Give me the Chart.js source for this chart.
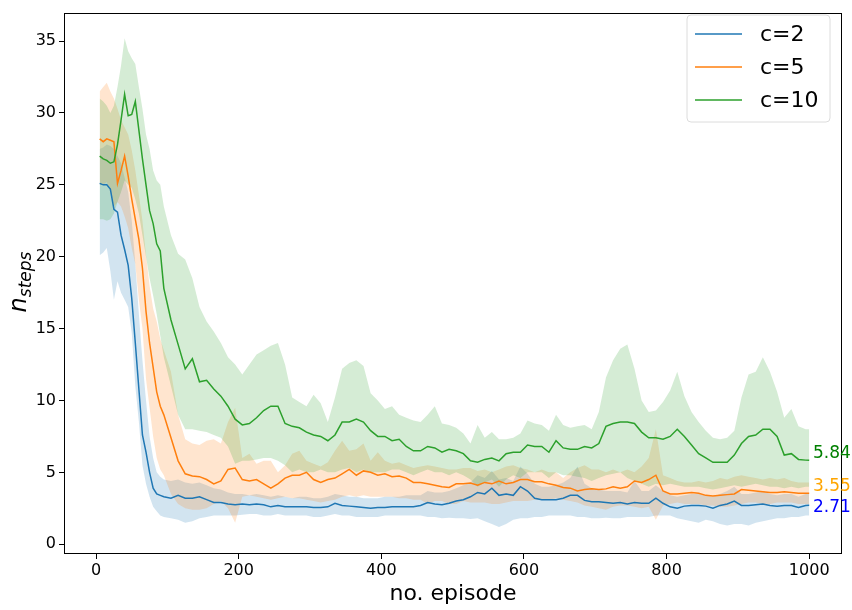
<!DOCTYPE html>
<html lang="en">
<head>
    <meta charset="UTF-8">
    <title>n_steps vs episode</title>
    <style>
        body { margin: 0; background: #ffffff; }
        #chart { display: block; }
    </style>
</head>
<body>
    <canvas id="chart" width="852" height="610"></canvas>

    <script src="https://cdn.jsdelivr.net/npm/chart.js"></script>
    <script>
        // episodes: every 5 steps during the early drop, then every 10 (plus the last one)
        const episodes = [];
        for (let e = 5; e <= 95; e += 5) episodes.push(e);
        for (let e = 105; e <= 995; e += 10) episodes.push(e);
        episodes.push(1000);

        const xTicks = [0, 200, 400, 600, 800, 1000];
        const yTicks = [0, 5, 10, 15, 20, 25, 30, 35];

        const seriesNames = ['c=2', 'c=5', 'c=10'];
        const finalLabels = ['2.71', '3.55', '5.84'];

        // c=2
        const c2Mean = [
            25.1, 25.0, 25.0, 24.7, 23.3, 23.1, 21.5, 20.5, 19.4, 17.1,
            14.0, 10.8, 7.6, 6.4, 5.0, 3.9, 3.5, 3.4, 3.3,
            3.2, 3.4, 3.2, 3.2, 3.3, 3.1, 2.9, 2.9, 2.8, 2.75,
            2.8, 2.75, 2.8, 2.75, 2.6, 2.7, 2.6, 2.6, 2.6, 2.6,
            2.55, 2.55, 2.6, 2.85, 2.7, 2.65, 2.6, 2.55, 2.5, 2.55,
            2.55, 2.6, 2.6, 2.6, 2.6, 2.7, 2.9, 2.8, 2.75, 2.85,
            3.0, 3.1, 3.3, 3.6, 3.5, 3.9, 3.4, 3.5, 3.4, 4.0,
            3.7, 3.2, 3.1, 3.1, 3.1, 3.2, 3.4, 3.4, 3.05, 2.95,
            2.95, 2.9, 2.85, 2.9, 2.8, 2.9, 2.85, 2.85, 3.2, 2.85,
            2.6, 2.5, 2.65, 2.7, 2.7, 2.65, 2.5, 2.7, 2.8, 3.0,
            2.7, 2.7, 2.75, 2.8, 2.7, 2.65, 2.7, 2.7, 2.55, 2.7,
            2.71
        ];
        const c2Upper = [
            27.5, 27.6, 27.8, 27.7, 27.5, 27.0, 26.5, 25.5, 24.5, 22.5,
            19.5, 16.0, 12.8, 10.0, 7.5, 6.0, 5.0, 4.7, 4.5,
            4.4, 4.5, 4.3, 4.2, 4.3, 4.1, 3.9, 3.8, 3.6, 3.5,
            3.5, 3.4, 3.5, 3.4, 3.3, 3.4, 3.3, 3.2, 3.3, 3.3,
            3.2, 3.2, 3.3, 3.5, 3.4, 3.3, 3.3, 3.2, 3.2, 3.2,
            3.3, 3.3, 3.3, 3.4, 3.4, 3.4, 3.7, 3.6, 3.6, 3.7,
            3.9, 4.1, 4.3, 4.8, 4.6, 5.1, 4.5, 4.6, 4.4, 5.4,
            4.9, 4.2, 4.0, 4.0, 4.1, 4.3, 4.6, 5.4, 4.2, 3.9,
            3.8, 3.7, 3.7, 3.7, 3.6, 4.4, 3.7, 3.7, 4.1, 3.7,
            3.4, 3.3, 3.4, 3.5, 3.5, 3.4, 3.3, 3.5, 3.7, 4.0,
            3.5, 3.5, 3.6, 3.7, 3.5, 3.4, 3.5, 3.5, 3.3, 3.5,
            3.5
        ];
        const c2Lower = [
            20.1, 20.3, 20.6, 19.0, 17.0, 18.3, 17.5, 17.0, 16.5, 14.7,
            11.0, 8.5, 5.5, 4.2, 3.3, 2.6, 2.3, 2.0, 1.9,
            1.8, 1.7, 1.5, 1.6, 1.8, 1.9, 2.0, 2.0, 2.0, 2.0,
            2.05, 2.1, 2.1, 2.0, 2.0, 2.1, 2.0, 2.0, 2.0, 2.0,
            1.9, 1.9, 2.0, 2.1, 2.0, 2.0, 1.9, 1.9, 1.9, 1.9,
            2.0, 2.0, 2.0, 2.0, 2.0, 2.0, 1.9, 1.9, 1.8, 1.85,
            1.8, 1.8, 1.75, 1.8, 1.6, 1.4, 1.2, 1.4, 1.7, 1.8,
            1.8, 1.9, 1.9, 2.0, 2.0, 2.0, 2.0, 1.9, 1.9, 1.8,
            1.8, 1.85, 1.8, 1.8, 1.9, 1.9, 1.9, 1.9, 2.0, 2.0,
            2.0, 1.8, 1.7, 1.6, 1.5, 1.7, 1.6, 1.4, 1.3, 1.4,
            1.4, 1.3, 1.5, 1.6, 1.7, 1.8, 1.8, 1.9, 1.9, 2.0,
            2.0
        ];

        // c=5
        const c5Mean = [
            28.2, 28.0, 28.2, 28.1, 28.0, 25.1, 26.0, 27.0, 25.6, 24.0,
            22.6, 21.2, 19.2, 16.2, 14.0, 12.3, 10.6, 9.6, 9.0,
            7.4, 5.8, 4.9, 4.75, 4.7, 4.5, 4.2, 4.4, 5.2, 5.3,
            4.5, 4.4, 4.5, 4.2, 3.9, 4.2, 4.6, 4.8, 4.8, 5.0,
            4.5, 4.3, 4.5, 4.6, 4.9, 5.2, 4.8, 5.1, 5.0, 4.8,
            4.9, 4.7, 4.75, 4.6, 4.3, 4.3, 4.2, 4.1, 4.0, 3.95,
            4.2, 4.2, 4.25, 4.1, 4.3, 4.2, 4.4, 4.2, 4.3, 4.5,
            4.5, 4.35, 4.35, 4.2, 4.1, 3.95, 3.9, 3.7, 3.8, 3.85,
            3.8, 3.85, 4.0, 3.9, 4.0, 4.4, 4.3, 4.5, 4.8, 3.7,
            3.5, 3.5, 3.55, 3.6, 3.55, 3.4, 3.35, 3.4, 3.45, 3.5,
            3.8, 3.75, 3.7, 3.65, 3.6, 3.6, 3.65, 3.6, 3.55, 3.55,
            3.55
        ];
        const c5Upper = [
            31.5, 31.8, 32.1, 31.5, 31.0, 30.3, 29.5, 29.0, 28.5, 27.4,
            26.0, 24.3, 22.5, 20.1, 18.0, 16.4, 15.5, 14.3, 13.5,
            12.0, 9.0, 7.3, 7.0, 6.9, 7.2, 7.3, 7.0, 8.5, 9.5,
            6.0, 6.3, 5.6, 5.8, 5.8, 5.0, 5.5, 6.3, 6.5, 5.8,
            5.6, 5.4, 5.7, 6.5, 7.2, 6.5, 6.6, 7.0, 5.8, 6.4,
            5.8, 5.6, 5.7, 5.5, 5.3, 5.4, 5.5, 5.4, 5.3, 5.2,
            5.2, 5.3, 5.3, 5.1, 5.2, 5.0, 5.2, 5.4, 5.5, 5.3,
            5.2, 5.0, 5.2, 5.0, 5.0, 4.6, 5.0, 5.3, 5.5, 5.2,
            5.2, 5.0, 5.2, 5.0, 5.2, 5.0, 5.4, 6.0, 8.0, 4.8,
            4.6, 4.4, 4.3, 4.3, 4.4, 4.3, 4.4, 4.6, 4.5, 4.7,
            4.8, 4.7, 4.6, 4.5, 4.6, 4.5, 4.6, 4.4, 4.3, 4.3,
            4.3
        ];
        const c5Lower = [
            25.0, 25.0, 25.2, 24.5, 23.5, 23.8, 23.5, 22.8, 22.0, 20.6,
            19.5, 17.0, 15.0, 11.5, 9.5, 7.5, 6.0, 5.2, 4.8,
            3.5, 2.8, 2.5, 2.4, 2.4, 2.5, 2.8, 3.0, 2.5, 1.5,
            3.3, 3.4, 3.3, 3.2, 3.1, 3.2, 3.3, 3.2, 3.2, 3.1,
            3.0, 2.9, 3.0, 3.1, 3.3, 3.4, 3.3, 3.4, 3.3, 3.3,
            3.3, 3.3, 3.2, 3.2, 3.1, 3.1, 2.8, 3.0, 3.0, 2.8,
            2.8, 3.0, 2.9, 2.9, 2.9, 2.8, 2.8, 2.9, 3.0, 3.0,
            3.0, 3.1, 3.1, 3.1, 3.2, 3.1, 3.0, 2.9, 2.7, 2.6,
            2.5, 2.4, 2.6, 2.7, 2.7, 2.6, 2.5, 2.6, 1.7, 2.7,
            2.8, 2.9, 2.8, 2.8, 2.8, 2.7, 2.7, 2.6, 2.6, 2.7,
            2.8, 2.9, 2.9, 2.8, 2.8, 2.9, 2.9, 2.9, 2.8, 2.8,
            2.8
        ];

        // c=10
        const c10Mean = [
            27.0, 26.8, 26.7, 26.5, 26.6, 27.8, 29.5, 31.3, 29.8, 29.9,
            30.8, 28.8, 26.8, 25.0, 23.2, 22.3, 20.9, 20.4, 17.8,
            15.6, 13.9, 12.2, 12.9, 11.3, 11.4, 10.8, 10.3, 9.6, 8.7,
            8.3, 8.4, 8.8, 9.3, 9.6, 9.6, 8.4, 8.2, 8.1, 7.8,
            7.6, 7.5, 7.2, 7.6, 8.5, 8.5, 8.7, 8.5, 7.9, 7.5,
            7.5, 7.2, 7.3, 6.8, 6.5, 6.5, 6.8, 6.7, 6.4, 6.6,
            6.5, 6.3, 5.8, 5.7, 5.9, 6.0, 5.8, 6.3, 6.4, 6.4,
            6.9, 6.8, 6.8, 6.4, 7.2, 6.7, 6.6, 6.6, 6.8, 6.7,
            7.0, 8.2, 8.4, 8.5, 8.5, 8.4, 7.8, 7.4, 7.4, 7.3,
            7.5, 8.0, 7.5, 6.9, 6.3, 6.0, 5.7, 5.7, 5.7, 6.2,
            7.0, 7.5, 7.6, 8.0, 8.0, 7.5, 6.2, 6.3, 5.9, 5.85,
            5.84
        ];
        const c10Upper = [
            31.0, 30.8, 30.5, 30.0, 30.5, 31.8, 33.3, 35.2, 34.3, 33.8,
            33.4, 31.8, 30.3, 28.5, 27.5, 26.0, 25.3, 25.0, 23.5,
            21.5, 20.2, 19.8, 18.5, 16.5, 15.5, 14.8, 14.0, 13.0, 12.5,
            11.8, 12.5, 13.2, 13.5, 13.8, 14.0, 12.5, 10.2, 9.9, 9.6,
            10.4, 9.8, 8.5, 10.2, 12.2, 12.6, 12.8, 12.4, 10.5, 10.0,
            9.4, 9.6, 9.0, 8.8, 8.6, 8.5, 9.0, 9.6, 8.4, 8.3,
            8.1, 7.7, 7.0, 8.3, 7.4, 7.8, 7.3, 7.3, 7.4, 7.7,
            8.6, 8.4, 8.3, 7.9, 9.0, 8.3, 8.1, 8.2, 8.3, 8.0,
            9.2, 11.6, 12.8, 13.6, 13.9, 12.2, 10.0, 9.2, 9.3, 9.9,
            10.7, 12.0, 10.3, 9.2, 8.5, 7.9, 7.4, 7.3, 7.4, 7.9,
            10.2, 11.8, 12.0, 13.0, 12.0, 10.6, 8.8, 9.4, 8.2, 8.0,
            8.0
        ];
        const c10Lower = [
            22.6, 22.6, 22.5, 22.6, 23.0, 23.8, 24.5, 25.3, 25.0, 24.8,
            24.0, 23.0, 21.5, 20.0, 18.5, 17.3, 16.0, 14.5, 13.0,
            11.0, 9.0, 8.0, 8.0, 7.9, 7.8, 7.6, 7.4, 6.8, 5.6,
            5.8, 5.8, 5.9, 6.0, 6.0, 5.8, 5.5, 5.0, 5.2, 5.0,
            5.0, 5.2, 5.0, 5.0, 5.2, 5.3, 5.0, 5.2, 5.0, 5.0,
            5.0, 5.2, 5.2, 5.0, 4.8, 5.0, 5.2, 5.0, 5.0, 4.8,
            5.0, 4.8, 4.5, 4.0, 4.3, 4.5, 4.0, 4.5, 4.8, 4.6,
            5.0, 5.0, 5.0, 4.6, 5.0, 4.8, 4.8, 4.7, 4.6, 4.4,
            4.6, 4.8, 4.9, 5.0, 4.6, 4.4, 4.2, 4.0, 4.2, 4.1,
            4.2, 4.1, 4.0, 4.0, 4.0, 3.9, 3.8, 3.9, 4.0, 4.1,
            4.0, 4.1, 4.2, 4.1, 4.0, 4.0, 3.9, 4.0, 3.9, 4.0,
            4.0
        ];

        const lineColors = ['#1f77b4', '#ff7f0e', '#2ca02c'];
        const bandColors = ['rgba(31,119,180,0.2)', 'rgba(255,127,14,0.2)', 'rgba(44,160,44,0.2)'];
        const textColors = ['#0000ff', '#ffa500', '#008000'];

        const means = [c2Mean, c5Mean, c10Mean];
        const uppers = [c2Upper, c5Upper, c10Upper];
        const lowers = [c2Lower, c5Lower, c10Lower];

        const toPoints = arr => arr.map((v, i) => ({ x: episodes[i], y: v }));

        const datasets = [];
        // bands first (drawn underneath), then lines
        for (let s = 0; s < 3; s++) {
            datasets.push({
                label: seriesNames[s] + ' upper',
                data: toPoints(uppers[s]),
                borderWidth: 0,
                borderColor: 'rgba(0,0,0,0)',
                backgroundColor: bandColors[s],
                pointRadius: 0,
                fill: '+1',
                order: 20 - 2 * s
            });
            datasets.push({
                label: seriesNames[s] + ' lower',
                data: toPoints(lowers[s]),
                borderWidth: 0,
                borderColor: 'rgba(0,0,0,0)',
                pointRadius: 0,
                fill: false,
                order: 19 - 2 * s
            });
        }
        for (let s = 0; s < 3; s++) {
            datasets.push({
                label: seriesNames[s],
                data: toPoints(means[s]),
                borderColor: lineColors[s],
                borderWidth: 1.5,
                pointRadius: 0,
                fill: false,
                tension: 0,
                order: 3 - s
            });
        }

        const font = 'DejaVu Sans';

        // frame, legend, right-hand labels and axis titles
        const decorations = {
            id: 'decorations',
            afterDraw(chart) {
                const ctx = chart.ctx;
                const a = chart.chartArea;
                const yScale = chart.scales.y;
                ctx.save();

                // frame
                ctx.strokeStyle = '#000';
                ctx.lineWidth = 1;
                ctx.strokeRect(Math.round(a.left) + 0.5, Math.round(a.top) + 0.5,
                    Math.round(a.right - a.left) - 1, Math.round(a.bottom - a.top) - 1);

                // final values next to the curves
                const offsets = [2, -7, -7];
                ctx.font = '17px "' + font + '"';
                ctx.textBaseline = 'middle';
                ctx.textAlign = 'left';
                for (let s = 0; s < 3; s++) {
                    const last = means[s][means[s].length - 1];
                    ctx.fillStyle = textColors[s];
                    ctx.fillText(finalLabels[s], 813, yScale.getPixelForValue(last) + offsets[s]);
                }

                // legend
                const lx = 687, ly = 15, lw = 143, lh = 107, r = 4;
                ctx.beginPath();
                ctx.moveTo(lx + r, ly);
                ctx.arcTo(lx + lw, ly, lx + lw, ly + lh, r);
                ctx.arcTo(lx + lw, ly + lh, lx, ly + lh, r);
                ctx.arcTo(lx, ly + lh, lx, ly, r);
                ctx.arcTo(lx, ly, lx + lw, ly, r);
                ctx.closePath();
                ctx.fillStyle = 'rgba(255,255,255,0.8)';
                ctx.fill();
                ctx.strokeStyle = '#dcdcdc';
                ctx.lineWidth = 1;
                ctx.stroke();
                ctx.font = '22px "' + font + '"';
                ctx.textBaseline = 'middle';
                for (let s = 0; s < 3; s++) {
                    const yy = 34 + s * 33;
                    ctx.strokeStyle = lineColors[s];
                    ctx.lineWidth = 1.5;
                    ctx.beginPath();
                    ctx.moveTo(695, yy);
                    ctx.lineTo(742, yy);
                    ctx.stroke();
                    ctx.fillStyle = '#000';
                    ctx.fillText(seriesNames[s], 760, yy + 1);
                }

                // x title
                ctx.fillStyle = '#000';
                ctx.textAlign = 'center';
                ctx.textBaseline = 'alphabetic';
                ctx.font = '22px "' + font + '"';
                ctx.fillText('no. episode', (a.left + a.right) / 2, 600);

                // y title: italic n with subscript "steps"
                ctx.translate(26, 282);
                ctx.rotate(-Math.PI / 2);
                ctx.textAlign = 'left';
                ctx.font = 'italic 24px "' + font + '"';
                const nW = ctx.measureText('n').width;
                ctx.font = 'italic 17px "' + font + '"';
                const sW = ctx.measureText('steps').width;
                const start = -(nW + sW) / 2;
                ctx.font = 'italic 24px "' + font + '"';
                ctx.fillText('n', start, 0);
                ctx.font = 'italic 17px "' + font + '"';
                ctx.fillText('steps', start + nW, 5);

                ctx.restore();
            }
        };

        const axisCommon = {
            type: 'linear',
            grid: {
                display: true,
                drawOnChartArea: false,
                drawTicks: true,
                tickLength: 5,
                tickColor: '#000',
                tickWidth: 1
            },
            border: { display: false },
            ticks: {
                color: '#000',
                font: { family: font, size: 16 },
                padding: 3,
                callback: v => String(v)
            }
        };

        new Chart(document.getElementById('chart').getContext('2d'), {
            type: 'line',
            data: { datasets: datasets },
            plugins: [decorations],
            options: {
                responsive: false,
                animation: false,
                devicePixelRatio: 1,
                layout: { padding: { top: 3, right: 10, left: 0, bottom: 0 } },
                plugins: {
                    legend: { display: false },
                    tooltip: { enabled: false },
                    filler: { propagate: false }
                },
                scales: {
                    x: Object.assign({}, axisCommon, {
                        position: 'bottom',
                        min: -45,
                        max: 1046,
                        afterBuildTicks: s => { s.ticks = xTicks.map(v => ({ value: v })); },
                        afterFit: s => { s.height = 56; },
                        ticks: Object.assign({}, axisCommon.ticks, { maxRotation: 0, padding: 2 })
                    }),
                    y: Object.assign({}, axisCommon, {
                        position: 'left',
                        min: -0.68,
                        max: 36.98,
                        afterBuildTicks: s => { s.ticks = yTicks.map(v => ({ value: v })); },
                        afterFit: s => { s.width = 64; }
                    })
                }
            }
        });
    </script>
</body>
</html>
